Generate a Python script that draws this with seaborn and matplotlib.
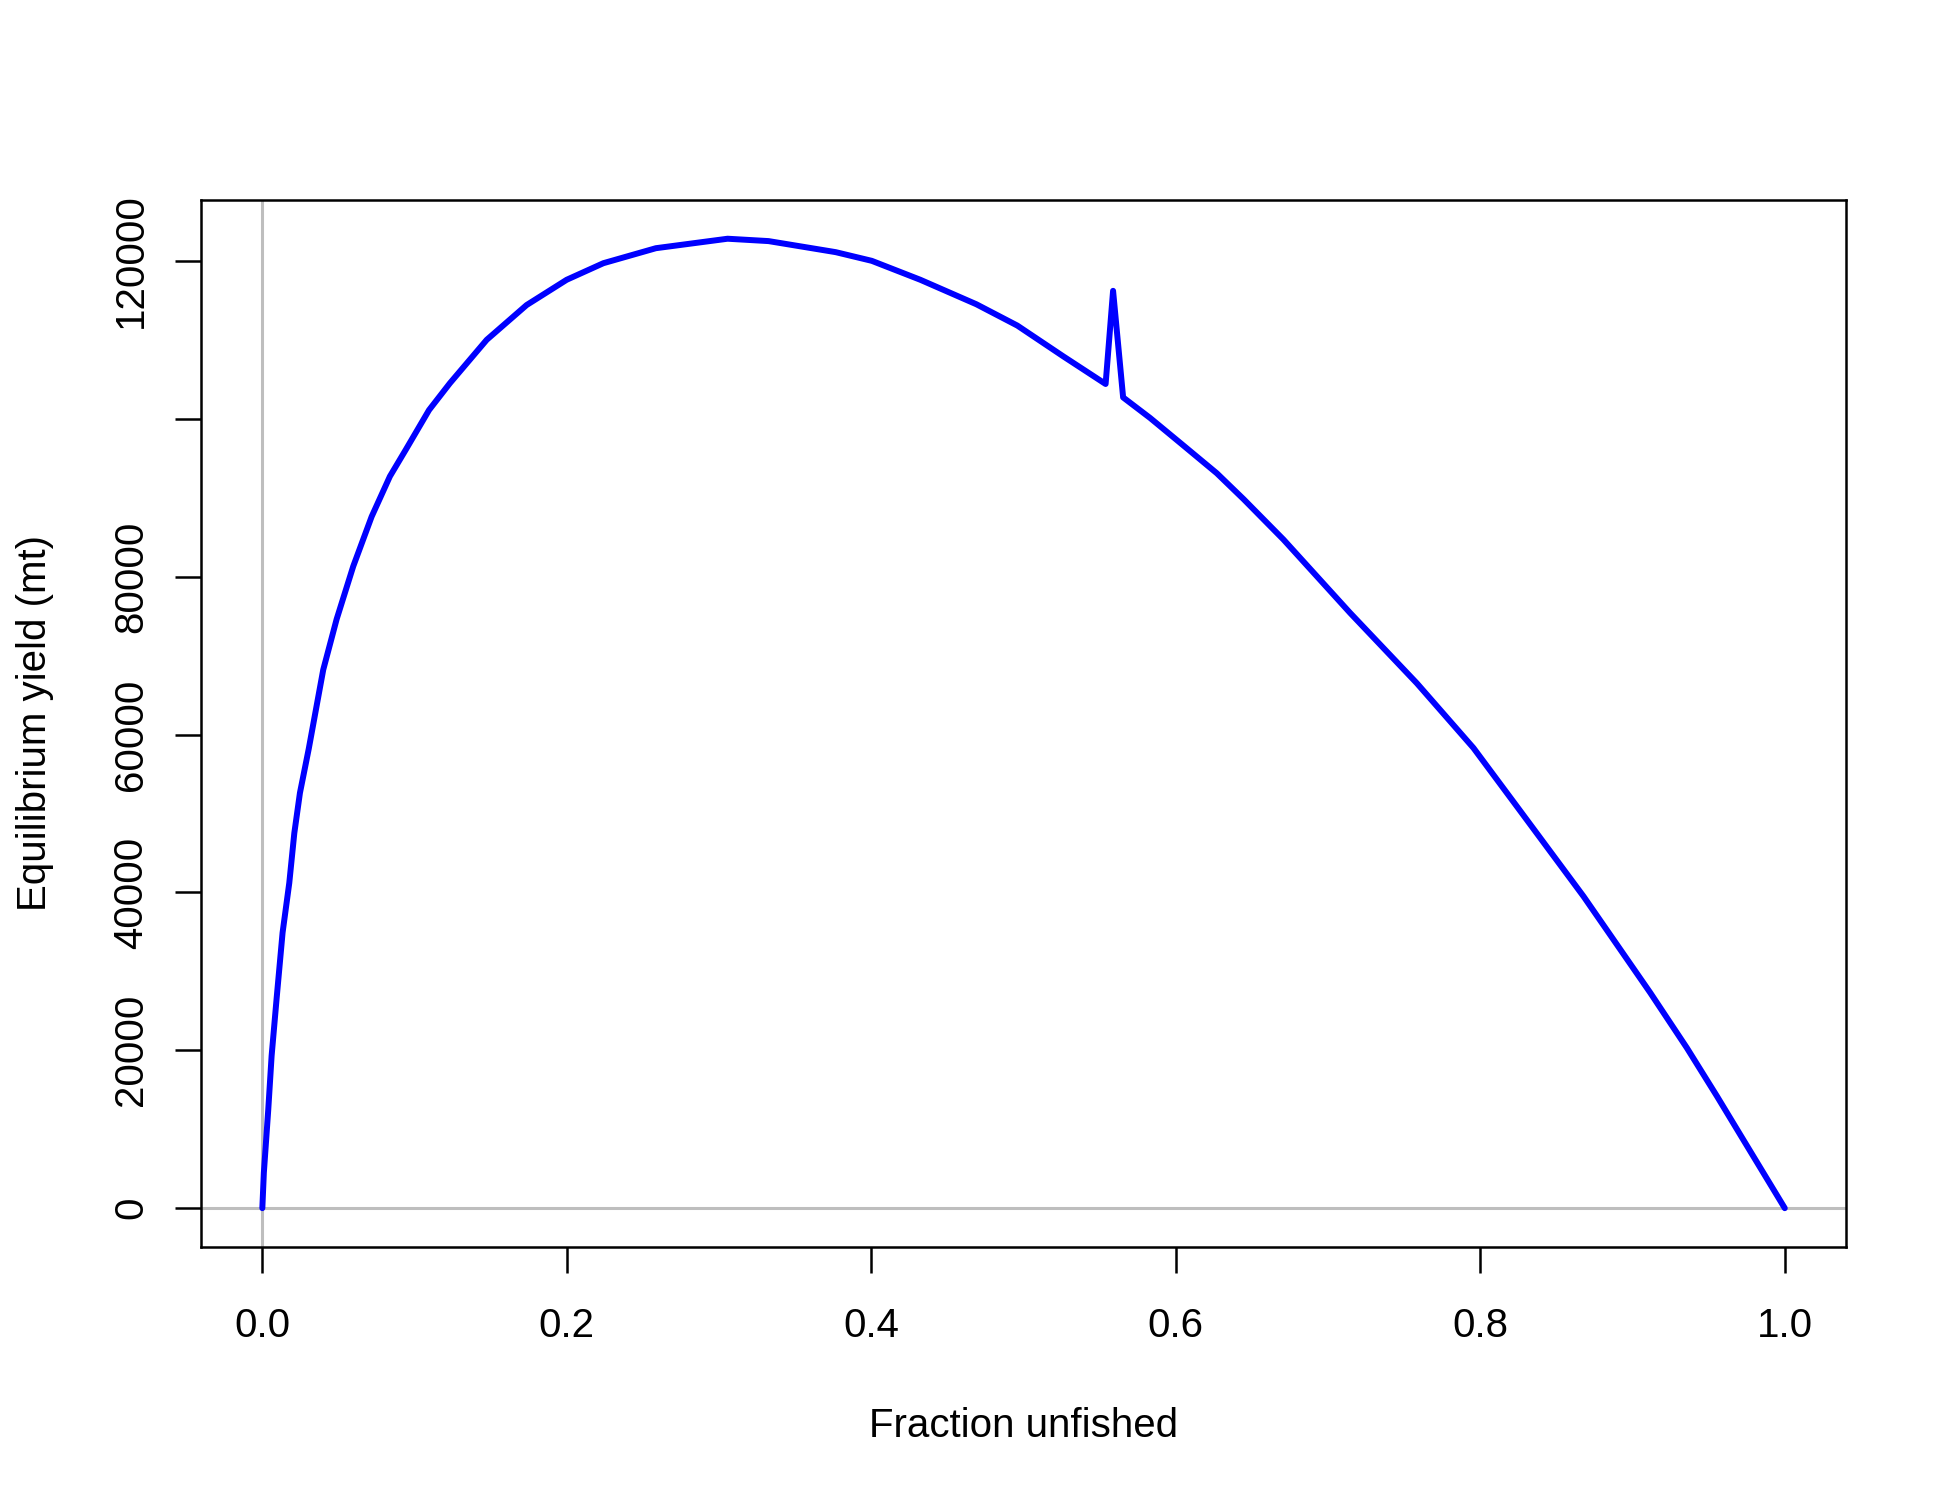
import matplotlib
matplotlib.use("Agg")
from matplotlib import pyplot as plt
import pandas as pd
import seaborn as sns

# equilibrium yield curve
frac_unfished = [0.0, 0.001, 0.0039, 0.0061, 0.0094, 0.0133, 0.0177, 0.021, 0.0247,
                 0.0305, 0.04, 0.0488, 0.0597, 0.0718, 0.0838, 0.0943, 0.1095, 0.1232,
                 0.1474, 0.1736, 0.1999, 0.224, 0.2585, 0.3056, 0.3325, 0.3766, 0.4003,
                 0.4322, 0.469, 0.4959, 0.5261, 0.5539, 0.5588, 0.5654, 0.5831, 0.6038,
                 0.6269, 0.6446, 0.6707, 0.7145, 0.7583, 0.7955, 0.824, 0.8678, 0.9116,
                 0.9357, 0.9554, 0.9714, 1.0]
eq_yield = [0, 4500, 12500, 19300, 26600, 34900, 41200, 47500, 52600,
            58200, 68200, 74600, 81300, 87600, 92700, 96100, 101100, 104500,
            110000, 114400, 117600, 119700, 121600, 122800, 122500, 121100, 120000,
            117600, 114500, 111800, 107900, 104400, 116200, 102700, 100100, 96800,
            93100, 89800, 84700, 75400, 66500, 58300, 50900, 39500, 27300,
            20300, 14200, 9100, 0]

x_ticks = [0.0, 0.2, 0.4, 0.6, 0.8, 1.0]
x_labels = ['0.0', '0.2', '0.4', '0.6', '0.8', '1.0']
y_ticks = [0, 20000, 40000, 60000, 80000, 100000, 120000]
y_labels = ['0', '20000', '40000', '60000', '80000', '', '120000']

sns.set_theme(style='white')
plt.rcParams['font.family'] = ['Liberation Sans', 'DejaVu Sans']

df = pd.DataFrame({'frac': frac_unfished, 'yield': eq_yield})

fig = plt.figure(figsize=(19.5, 15), dpi=100)
ax = fig.add_axes([0.1033, 0.1687, 0.8432, 0.698])

ax.axvline(0, color='#bebebe', lw=2.2, zorder=1)
ax.axhline(0, color='#bebebe', lw=2.2, zorder=1)
sns.lineplot(data=df, x='frac', y='yield', sort=False, estimator=None,
             color='blue', lw=4.3, ax=ax, zorder=3)

ax.set_xlim(-0.04, 1.04)
ax.set_ylim(-4912, 127712)
ax.set_xticks(x_ticks)
ax.set_xticklabels(x_labels)
ax.set_yticks(y_ticks)
ax.set_yticklabels(y_labels, rotation=90, va='center')

for sp in ax.spines.values():
    sp.set_color('black')
    sp.set_linewidth(1.8)
ax.tick_params(axis='both', which='major', direction='out', length=19, width=1.8,
               color='black', labelsize=29, labelcolor='black', pad=22,
               bottom=True, left=True)
ax.tick_params(axis='x', pad=24)
ax.tick_params(axis='y', pad=18)

ax.set_xlabel('Fraction unfished', fontsize=29, color='black', labelpad=45)
ax.set_ylabel('Equilibrium yield (mt)', fontsize=29, color='black', labelpad=42)

fig.savefig('out.png', dpi=100, facecolor='white')
